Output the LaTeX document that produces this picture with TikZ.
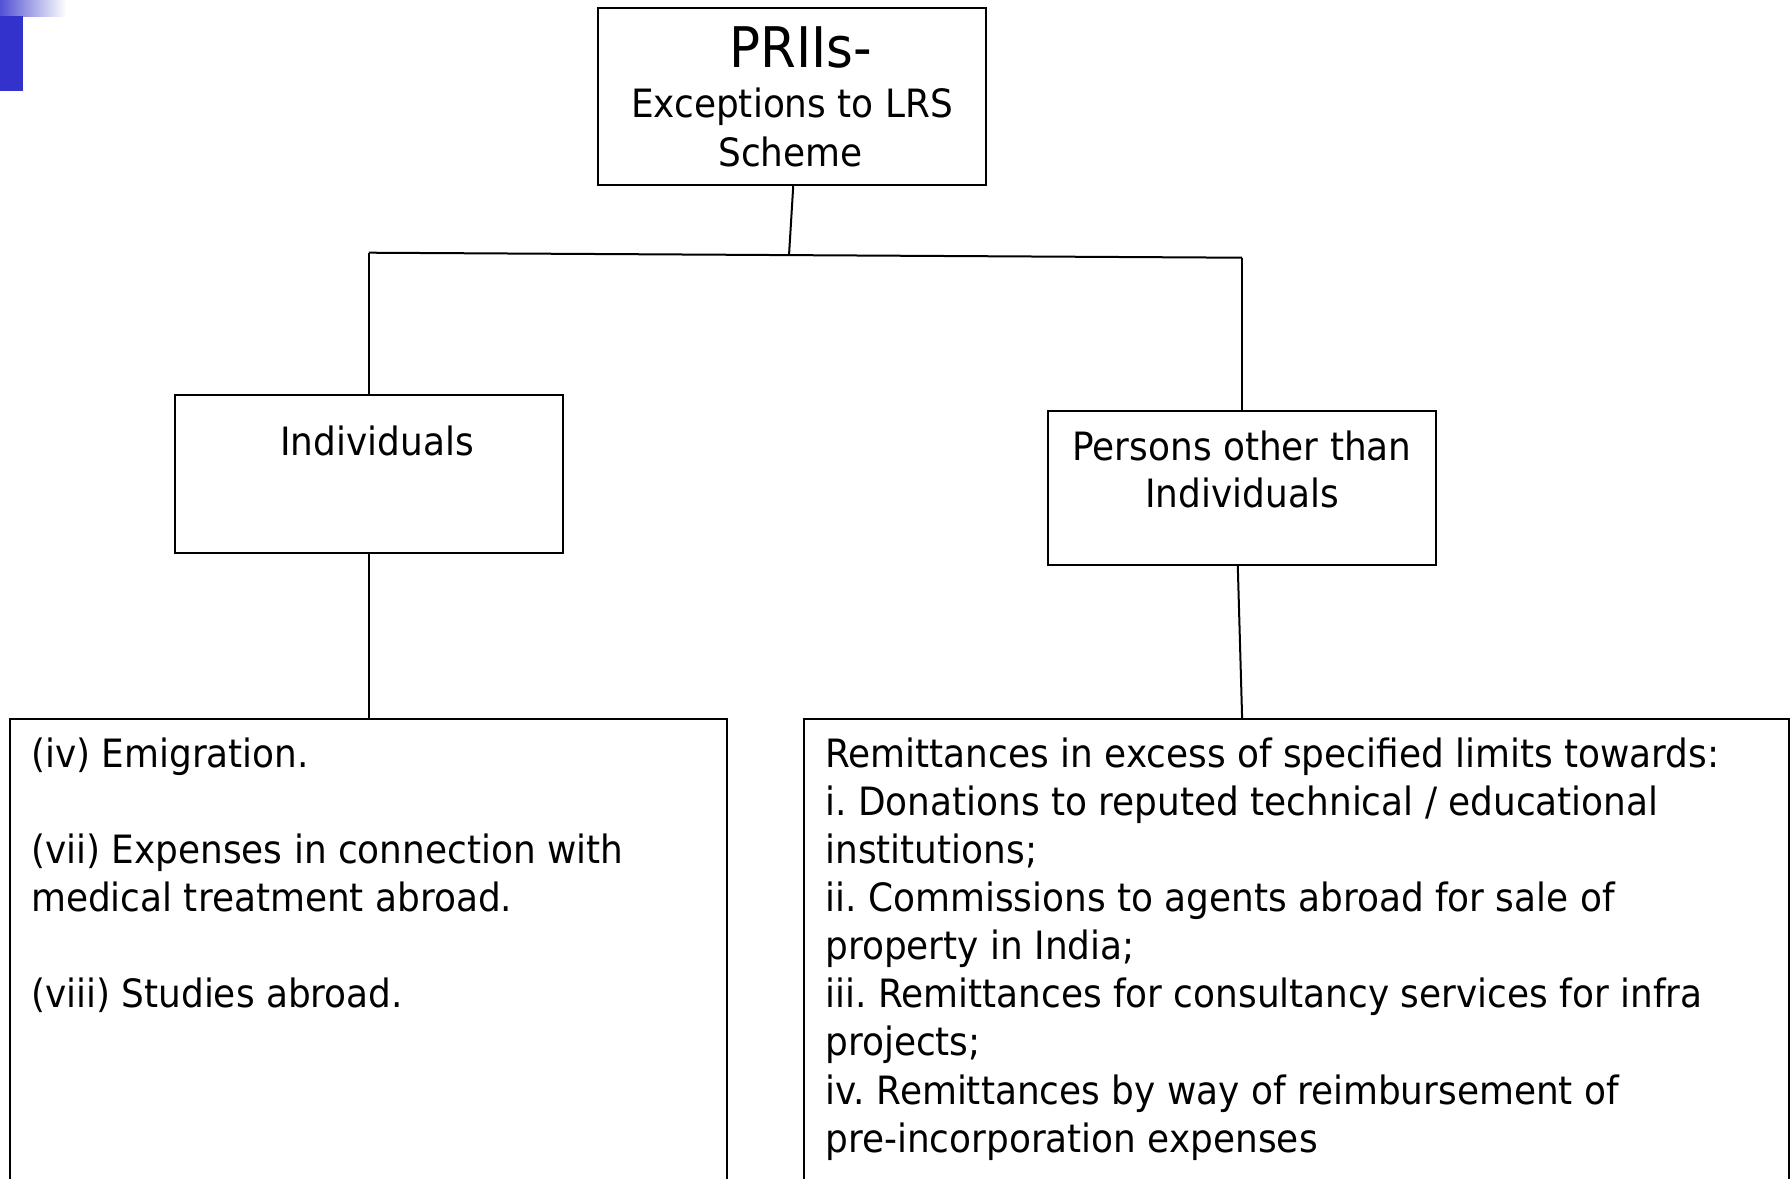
\documentclass[tikz,border=0pt]{standalone}
\usepackage{fontspec}
\setmainfont{DejaVu Sans}[FakeStretch=0.92]
\definecolor{cornerblue}{RGB}{51,51,204}
\frenchspacing
\begin{document}
\begin{tikzpicture}[x=0.5pt,y=-0.5pt,
  box/.style={draw=black, line width=1pt, rectangle, inner sep=0pt, outer sep=0pt},
  headtext/.style={font=\fontsize{28}{32}\selectfont, inner sep=0pt, anchor=base},
  midtext/.style={font=\fontsize{19.5}{23.65}\selectfont, inner sep=0pt, anchor=base},
  listtext/.style={font=\fontsize{19.5}{24.05}\selectfont, inner sep=0pt, anchor=base west},
  link/.style={draw=black, line width=1pt}]
\useasboundingbox (0,0) rectangle (1790,1179);
\clip (0,0) rectangle (1790,1179);
\fill[white] (0,0) rectangle (1790,1179);

% slide corner ornament
\shade[left color=cornerblue!85, right color=white] (0,0) rectangle (66,16);
\fill[cornerblue] (0,16) rectangle (22.7,90.7);

% boxes
\node[box, minimum width=193.7pt, minimum height=88.35pt] (top) at (792,96.65) {};
\node[box, minimum width=193.85pt, minimum height=78.7pt] (ind) at (368.85,474) {};
\node[box, minimum width=193.85pt, minimum height=76.85pt] (oth) at (1242.15,487.85) {};
\node[box, minimum width=358.2pt, minimum height=300pt, anchor=north west] (indlist) at (10.4,719) {};
\node[box, minimum width=492.25pt, minimum height=300pt, anchor=north west] (othlist) at (804,719) {};

% texts
\node[headtext] (t1) at (800.5,67.5) {PRIIs-};
\node[midtext] (t2) at (792,117) {Exceptions to LRS};
\node[midtext] (t3) at (790.5,166.7) {Scheme};
\node[midtext] (indt) at (377,455) {Individuals};
\node[midtext] (otht) at (1242,460) {\parbox[t]{180pt}{\centering Persons other than\\Individuals}};
\node[listtext] (indl) at (30.7,767.3) {\parbox[t]{340pt}{%
(iv) Emigration.\\[24.05pt]
(vii) Expenses in connection with\\
medical treatment abroad.\\[24.05pt]
(viii) Studies abroad.}};
\node[listtext] (othl) at (825,767.3) {\parbox[t]{475pt}{%
Remittances in excess of specified limits towards:\\
i. Donations to reputed technical / educational\\
institutions;\\
ii. Commissions to agents abroad for sale of\\
property in India;\\
iii. Remittances for consultancy services for infra\\
projects;\\
iv. Remittances by way of reimbursement of\\
pre-incorporation expenses}};

% connectors
\coordinate (busL) at (368.85,252.7);
\coordinate (busR) at (1242.15,257.7);
\coordinate (busM) at (789,255.3);
\draw[link] ([xshift=0.65pt]top.south) -- (busM);
\draw[link] (busL) -- (busR);
\draw[link] (busL) -- (ind.north);
\draw[link] (busR) -- (oth.north);
\draw[link] (ind.south) -- (ind.south |- indlist.north);
\draw[link] ([xshift=-2.2pt]oth.south) -- (oth.south |- othlist.north);
\end{tikzpicture}
\end{document}
